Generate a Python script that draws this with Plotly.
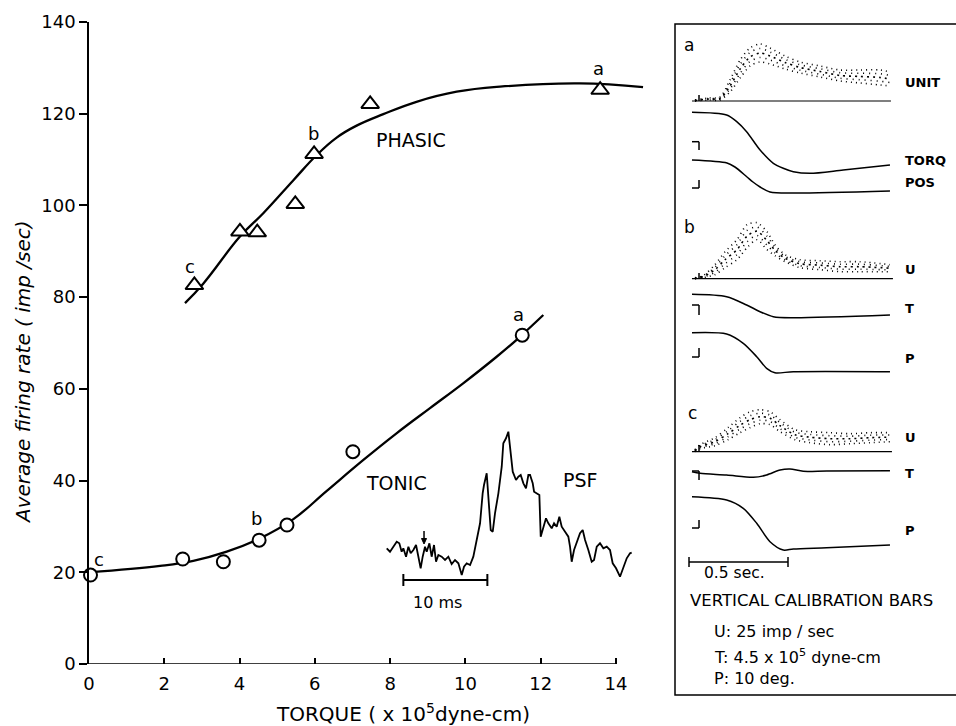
import plotly.graph_objects as go

# ---------------- data: main graph ----------------
phasic_x = [2.80, 4.01, 4.47, 5.48, 5.98, 7.47, 13.58]
phasic_y = [82.6, 94.3, 94.1, 100.3, 111.2, 122.1, 125.2]
phasic_fit_x = [2.55, 3.04, 4.01, 4.63, 5.43, 6.05, 6.58, 7.11, 7.82, 8.70, 9.77, 10.92, 13.04, 14.72]
phasic_fit_y = [78.7, 83.0, 93.2, 98.3, 105.5, 111.0, 114.8, 117.4, 119.9, 122.6, 124.8, 125.9, 126.6, 125.8]

tonic_x = [0.04, 2.49, 3.57, 4.52, 5.26, 7.01, 11.51]
tonic_y = [19.4, 22.9, 22.3, 27.0, 30.3, 46.3, 71.7]
tonic_fit_x = [0.0, 1.89, 2.77, 3.66, 4.54, 5.43, 6.31, 7.29, 8.17, 9.06, 9.94, 10.83, 11.36, 12.07]
tonic_fit_y = [20.0, 21.4, 22.5, 24.5, 27.4, 31.6, 37.7, 44.5, 50.3, 55.8, 61.2, 67.0, 70.7, 76.1]

x_ticks = [0, 2, 4, 6, 8, 10, 12, 14]
y_ticks = [0, 20, 40, 60, 80, 100, 120, 140]

# point letters (label, x, y)
phasic_letters = [("c", 2.68, 86.6), ("b", 5.96, 115.7), ("a", 13.53, 129.9)]
tonic_letters = [("c", 0.27, 22.8), ("b", 4.46, 31.8), ("a", 11.42, 76.3)]

# ---------------- data: PSF inset (ms, counts) ----------------
psf_t = [0.00, 0.39, 0.79, 1.19, 1.50, 1.78, 1.98, 2.30, 2.58, 2.85, 3.17, 3.49, 3.77, 4.04, 4.28,
         4.56, 4.76, 5.08, 5.35, 5.63, 5.87, 6.15, 6.54, 6.94, 7.34, 7.73, 8.13, 8.53, 8.93, 9.20,
         9.52, 9.92, 10.31, 10.71, 11.11, 11.42, 11.58, 11.90, 12.10, 12.38, 12.62, 12.89, 13.29,
         13.69, 13.88, 14.20, 14.48, 14.68, 15.00, 15.39, 15.67, 15.95, 16.27, 16.58, 16.86, 17.06,
         17.38, 17.54, 17.85, 18.17, 18.33, 18.65, 18.96, 19.24, 19.64, 19.92, 20.23, 20.55, 20.83,
         21.23, 21.62, 21.82, 22.02, 22.30, 22.69, 23.01, 23.33, 23.61, 24.00, 24.40, 24.68, 25.00,
         25.39, 25.79, 26.19, 26.58, 26.90, 27.30, 27.77, 28.17, 28.57, 28.96, 29.16]
psf_v = [51.7, 48.3, 53.3, 58.3, 56.7, 48.3, 51.7, 43.3, 53.3, 46.7, 50.0, 55.0, 43.3, 31.7, 43.3,
         53.3, 48.3, 56.7, 43.3, 55.0, 38.3, 45.0, 43.3, 40.0, 43.3, 36.0, 40.0, 36.7, 25.0, 33.3,
         36.7, 35.0, 43.3, 60.0, 76.7, 106.7, 115.0, 126.7, 106.7, 70.0, 68.3, 86.7, 106.7,
         133.3, 156.7, 161.7, 168.3, 150.0, 128.3, 120.0, 123.3, 125.0, 116.7, 111.7, 125.0, 125.0,
         116.7, 108.3, 106.7, 105.0, 63.3, 73.3, 81.7, 76.7, 71.7, 76.7, 73.3, 83.3, 73.3,
         68.3, 63.3, 53.3, 38.3, 50.0, 60.0, 66.7, 70.0, 60.0, 50.0, 38.3, 40.0, 53.3,
         56.7, 51.7, 53.3, 50.0, 36.7, 31.7, 23.3, 33.3, 41.7, 46.7, 47.3]
psf_stim_t = 4.44   # stimulus arrow (ms)

# ---------------- data: right panel records (s, deflection) ----------------
ua_t = [0.03, 0.10, 0.157, 0.207, 0.258, 0.308, 0.359, 0.409, 0.485, 0.561, 0.662, 0.763, 0.864, 0.965, 1.015]
ua_hi = [1, 3, 4, 21, 41, 53, 57, 53, 45, 39, 35, 31, 31, 31, 29]
ua_lo = [0, 1, 1, 9, 23, 35, 39, 37, 32, 28, 24, 20, 18, 16, 15]
ub_t = [0.03, 0.071, 0.131, 0.182, 0.242, 0.293, 0.343, 0.394, 0.434, 0.485, 0.561, 0.662, 0.763, 0.864, 1.015]
ub_hi = [1, 3, 14, 27, 39, 54, 56, 47, 34, 24, 19, 18, 17, 17, 14]
ub_lo = [0, 1, 4, 11, 19, 31, 39, 29, 23, 17, 11, 9, 7, 7, 7]
uc_t = [0.03, 0.056, 0.131, 0.197, 0.258, 0.308, 0.359, 0.409, 0.460, 0.535, 0.611, 0.712, 0.813, 0.914, 1.015]
uc_hi = [2, 7, 14, 24, 34, 40, 42, 40, 32, 22, 20, 19, 18, 19, 19]
uc_lo = [0, 3, 6, 12, 19, 24, 28, 27, 20, 12, 9, 7, 8, 9, 10]

ta_t = [0.015, 0.190, 0.241, 0.291, 0.359, 0.426, 0.476, 0.527, 0.611, 0.779, 1.015]
ta_v = [0, -2.7, -9.4, -19.4, -37.7, -51.0, -56.0, -59.4, -61.0, -57.7, -52.7]
pa_t = [0.015, 0.192, 0.232, 0.293, 0.323, 0.359, 0.409, 0.525, 1.015]
pa_v = [0, -3, -7, -17, -22, -27, -32, -33, -31]
tb_t = [0.015, 0.190, 0.291, 0.359, 0.426, 0.527, 1.015]
tb_v = [0, -2.4, -10.7, -17.4, -22.4, -23.4, -20.7]
pb_t = [0.015, 0.190, 0.274, 0.342, 0.392, 0.434, 0.527, 1.015]
pb_v = [0, -1.3, -10.6, -24.0, -35.6, -40.0, -39.0, -39.0]
tc_t = [0.015, 0.056, 0.190, 0.325, 0.392, 0.460, 0.510, 0.577, 0.695, 1.015]
tc_v = [0, -1.6, -3.3, -5.6, -3.3, 1.7, 2.7, 0.4, 0.7, 1.0]
pc_t = [0.015, 0.190, 0.274, 0.342, 0.409, 0.476, 0.527, 0.695, 1.015]
pc_v = [0, -3.3, -11.6, -26.6, -45.0, -53.3, -52.3, -51.0, -48.3]

# ---------------- layout constants ----------------
W, H = 956, 726
FONT = "DejaVu Sans"
def PX(p): return p / W
def PY(p): return 1 - p / H

# row baselines of the right panel (panel units, 1 unit = 1 px, up positive)
ROW = {"a": (625, 613.7, 566), "b": (447.3, 431.7, 393.3), "c": (274.3, 254.3, 229.3)}
U_END = {"a": 1.02, "b": 1.03, "c": 1.025}

fig = go.Figure()

# ---------------- main graph ----------------
line_style = dict(color="black", width=2.3, shape="spline", smoothing=1.2)
fig.add_trace(go.Scatter(x=phasic_fit_x, y=phasic_fit_y, mode="lines", line=line_style,
                         cliponaxis=False, hoverinfo="skip"))
fig.add_trace(go.Scatter(x=tonic_fit_x, y=tonic_fit_y, mode="lines", line=line_style,
                         cliponaxis=False, hoverinfo="skip"))
fig.add_trace(go.Scatter(x=phasic_x, y=phasic_y, mode="markers", cliponaxis=False,
                         marker=dict(symbol="triangle-up", size=15.5, color="white",
                                     line=dict(color="black", width=2))))
fig.add_trace(go.Scatter(x=tonic_x, y=tonic_y, mode="markers", cliponaxis=False,
                         marker=dict(symbol="circle", size=13, color="white",
                                     line=dict(color="black", width=2))))

# ---------------- PSF inset ----------------
fig.add_trace(go.Scatter(x=psf_t, y=psf_v, mode="lines", xaxis="x2", yaxis="y2",
                         line=dict(color="black", width=1.8), hoverinfo="skip"))

# ---------------- right panel ----------------
def add_rec(t, v, base, width=1.5, dash=None):
    fig.add_trace(go.Scatter(x=t, y=[base + d for d in v], mode="lines", xaxis="x3", yaxis="y3",
                             line=dict(color="black", width=width, shape="spline", smoothing=0.8,
                                       dash=dash), hoverinfo="skip"))

units = {"a": (ua_t, ua_hi, ua_lo), "b": (ub_t, ub_hi, ub_lo), "c": (uc_t, uc_hi, uc_lo)}
torques = {"a": (ta_t, ta_v), "b": (tb_t, tb_v), "c": (tc_t, tc_v)}
poss = {"a": (pa_t, pa_v), "b": (pb_t, pb_v), "c": (pc_t, pc_v)}
for k in "abc":
    ub, tbase, pbase = ROW[k]
    t, hi, lo = units[k]
    mid = [(h + l) / 2 for h, l in zip(hi, lo)]
    q1 = [(3 * h + l) / 4 for h, l in zip(hi, lo)]
    q3 = [(h + 3 * l) / 4 for h, l in zip(hi, lo)]
    for arr, dsh in ((hi, "1px,4px"), (q1, "1px,5px"), (mid, "2px,4px"), (q3, "1px,5px"), (lo, "1px,4px")):
        add_rec(t, arr, ub, width=1.6, dash=dsh)
    # unit baseline
    fig.add_trace(go.Scatter(x=[0.015, U_END[k]], y=[ub, ub], mode="lines", xaxis="x3", yaxis="y3",
                             line=dict(color="black", width=1.2), hoverinfo="skip"))
    add_rec(*torques[k], tbase)
    add_rec(*poss[k], pbase)

shapes = []
# x axis line of main graph (0..14)
shapes.append(dict(type="line", xref="x", yref="y", x0=0, x1=14, y0=0, y1=0,
                   line=dict(color="black", width=1.5)))
# PSF 10 ms bar
for sh in [(1.98, 20, 11.98, 20), (1.98, 14, 1.98, 26), (11.98, 14, 11.98, 26)]:
    shapes.append(dict(type="line", xref="x2", yref="y2", x0=sh[0], y0=sh[1], x1=sh[2], y1=sh[3],
                       line=dict(color="black", width=2)))
# PSF stimulus arrow
shapes.append(dict(type="line", xref="x2", yref="y2", x0=psf_stim_t, x1=psf_stim_t, y0=69, y1=60,
                   line=dict(color="black", width=1.5)))
shapes.append(dict(type="path", xref="x2", yref="y2",
                   path=f"M {psf_stim_t-0.3},61.5 L {psf_stim_t+0.3},61.5 L {psf_stim_t},56 Z",
                   fillcolor="black", line=dict(color="black", width=1)))
# right box
shapes.append(dict(type="rect", xref="paper", yref="paper", x0=PX(675), x1=PX(975),
                   y0=PY(695), y1=PY(24), line=dict(color="black", width=1.5)))
# calibration bars
CX0, CX1 = 0.015, 0.0505
cal_T = {"a": (584.3, 576), "b": (421, 411), "c": (255, 246)}
cal_P = {"a": (546, 538), "b": (378, 369), "c": (206, 198)}
cal_U = {"a": (625, 631), "b": (447.3, 453), "c": (274.3, 281)}
segs = []
for k in "abc":
    top, bot = cal_T[k]
    segs += [(CX0, top, CX1, top), (CX1, top, CX1, bot)]
    top, bot = cal_P[k]
    segs += [(CX1, top, CX1, bot), (CX0, bot, CX1, bot)]
    b0, b1 = cal_U[k]
    segs += [(CX1, b0, CX1, b1)]
# 0.5 s bar
segs += [(0, 164, 0.5, 164), (0, 159, 0, 169), (0.5, 159, 0.5, 169)]
for s in segs:
    shapes.append(dict(type="line", xref="x3", yref="y3", x0=s[0], y0=s[1], x1=s[2], y1=s[3],
                       line=dict(color="black", width=1.5)))

ann = []
def txt(text, x, y, size=17, xref="paper", yref="paper", xanchor="center", **kw):
    ann.append(dict(text=text, x=x, y=y, xref=xref, yref=yref, showarrow=False,
                    xanchor=xanchor, yanchor="middle",
                    font=dict(family=FONT, size=size, color="black"), **kw))

for lab, x, y in phasic_letters + tonic_letters:
    txt(lab, x, y, size=18, xref="x", yref="y")
txt("PHASIC", 8.56, 114.3, size=19, xref="x", yref="y")
txt("TONIC", 8.16, 39.5, size=19, xref="x", yref="y")
txt("PSF", PX(580), PY(480), size=19)
txt("10 ms", PX(437), PY(602), size=16)
# axis titles
txt("<i>Average firing rate ( imp /sec)</i>", PX(23), PY(372), size=20, textangle=-90)
txt("TORQUE ( x 10<sup>5</sup>dyne-cm)", PX(403), PY(713), size=20)

# right panel labels
txt("a", PX(689), PY(45), size=17)
txt("b", PX(689), PY(227), size=17)
txt("c", PX(692), PY(413), size=17)
bold = lambda s: "<b>" + s + "</b>"
for s, y in [("UNIT", 82), ("TORQ", 160), ("POS", 183), ("U", 269), ("T", 308), ("P", 358),
             ("U", 437), ("T", 473), ("P", 530)]:
    txt(bold(s), PX(903), PY(y), size=13, xanchor="left")
txt("0.5 sec.", PX(734), PY(573), size=15.5)
txt("VERTICAL CALIBRATION BARS", PX(688), PY(600), size=16.5, xanchor="left")
txt("U: 25 imp / sec", PX(712), PY(631), size=16, xanchor="left")
txt("T: 4.5 x 10<sup>5</sup> dyne-cm", PX(712), PY(656), size=16, xanchor="left")
txt("P: 10 deg.", PX(712), PY(678), size=16, xanchor="left")

fig.update_layout(
    width=W, height=H, margin=dict(l=0, r=0, t=0, b=0),
    paper_bgcolor="white", plot_bgcolor="rgba(0,0,0,0)", showlegend=False,
    font=dict(family=FONT, size=17, color="black"),
    xaxis=dict(domain=[PX(89), PX(89 + 15 * 37.64)], range=[0, 15], showline=False,
               showgrid=False, zeroline=False, ticks="inside", tickvals=x_ticks, ticklen=6,
               tickwidth=1.5, tickcolor="black", tickfont=dict(size=18), ticklabelstandoff=7,
               automargin=False, anchor="y"),
    yaxis=dict(domain=[PY(664), PY(22)], range=[0, 140], showline=True, linecolor="black",
               linewidth=1.5, showgrid=False, zeroline=False, ticks="outside", tickvals=y_ticks,
               ticklen=8, tickwidth=1.5, tickcolor="black", tickfont=dict(size=18),
               automargin=False, anchor="x"),
    xaxis2=dict(domain=[PX(380), PX(640)], range=[-0.8, 30.15], visible=False, anchor="y2"),
    yaxis2=dict(domain=[PY(600), PY(400)], range=[0, 200], visible=False, anchor="x2"),
    xaxis3=dict(domain=[PX(676), 1], range=[-0.0657, 1.3485], visible=False, anchor="y3"),
    yaxis3=dict(domain=[0, 1], range=[0, 726], visible=False, anchor="x3"),
    shapes=shapes, annotations=ann,
)

fig.write_html("out.html", config={"displayModeBar": False},
               post_script="document.body.style.margin='0';")
